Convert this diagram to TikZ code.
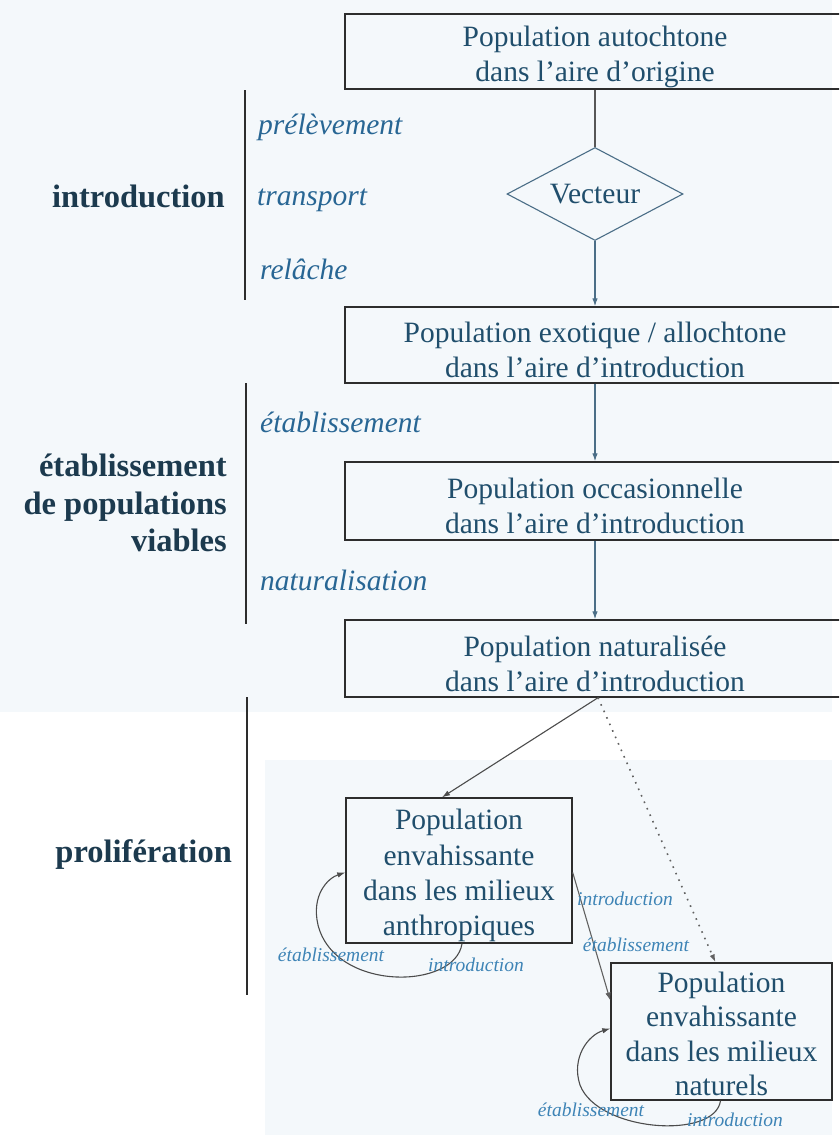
\documentclass[tikz,border=0pt]{standalone}
\usepackage{fontspec}
\setmainfont{Liberation Serif}
\usetikzlibrary{arrows.meta,shapes.geometric,calc}
\definecolor{bgtint}{RGB}{244,248,251}
\definecolor{boxtext}{RGB}{32,78,108}
\definecolor{boldlab}{RGB}{28,58,78}
\definecolor{itallab}{RGB}{40,102,148}
\definecolor{smalllab}{RGB}{62,132,182}
\definecolor{boxline}{RGB}{45,45,45}
\definecolor{arrowcol}{RGB}{75,110,135}
\newcommand\topgap{\rule{0pt}{31pt}}
\newcommand\smallgap{\rule{0pt}{25pt}}
\begin{document}
\begin{tikzpicture}[x=1pt,y=-1pt,
  popbox/.style={draw=boxline, line width=1.4pt, rectangle, inner sep=0pt,
    align=center, text=boxtext, font=\fontsize{29.5}{34.8}\selectfont},
  vecbox/.style={draw=arrowcol, line width=1.1pt, diamond, inner sep=0pt, aspect=1.9,
    minimum width=176pt, minimum height=93pt, text=boxtext,
    font=\fontsize{29.5}{34.5}\selectfont},
  boldlabel/.style={text=boldlab, font=\fontsize{32.5}{37.5}\selectfont\bfseries, inner sep=0pt},
  itlabel/.style={text=itallab, font=\fontsize{29.5}{34}\selectfont\itshape, inner sep=0pt, anchor=base west},
  smlabel/.style={text=smalllab, font=\fontsize{19.5}{22}\selectfont\itshape, inner sep=0pt},
  conn/.style={draw=arrowcol, line width=1.1pt},
  arr/.style={conn, -{Latex[length=8pt,width=5.5pt]}},
  bar/.style={draw=boxline, line width=1.7pt}
]
\useasboundingbox (0,0) rectangle (839,1135);
\clip (0,0) rectangle (839,1135);
\fill[white] (0,0) rectangle (839,1135);
\fill[bgtint] (0,0) rectangle (832,712);
\fill[bgtint] (265,760) rectangle (832,1135);

% main boxes
\node[popbox, minimum width=500pt, minimum height=75pt] (b1) at (595,51.5)
  {\topgap Population autochtone\\dans l’aire d’origine};
\node[vecbox] (vec) at (595,194) {Vecteur};
\node[popbox, minimum width=500pt, minimum height=76pt] (b2) at (595,345)
  {\topgap Population exotique / allochtone\\dans l’aire d’introduction};
\node[popbox, minimum width=500pt, minimum height=78pt] (b3) at (595,501)
  {\topgap Population occasionnelle\\dans l’aire d’introduction};
\node[popbox, minimum width=500pt, minimum height=77pt] (b4) at (595,658.5)
  {\topgap Population naturalisée\\dans l’aire d’introduction};
\node[popbox, minimum width=226pt, minimum height=145pt, font=\fontsize{29.5}{35.4}\selectfont] (b5) at (459,870.5)
  {\topgap Population\\envahissante\\dans les milieux\\anthropiques};
\node[popbox, minimum width=221pt, minimum height=137pt, font=\fontsize{29.5}{34.3}\selectfont] (b6) at (721.5,1031.5)
  {\smallgap Population\\envahissante\\dans les milieux\\naturels};

% connectors
\draw[conn, draw=boxline!80] (b1.south) -- (vec.north);
\draw[arr] (vec.south) -- (b2.north);
\draw[arr] (b2.south) -- (b3.north);
\draw[arr] (b3.south) -- (b4.north);
\coordinate (split) at ($(b4.south)+(3,0)$);
\draw[conn, draw=boxline!85, -{Latex[length=8pt,width=5.5pt]}] (split) -- ($(b5.north)+(-17,0)$);
\draw[conn, draw=boxline!75, line width=1.6pt, dash pattern=on 1.6pt off 5.5pt, -{Latex[length=8pt,width=5.5pt]}] (split) -- ($(b6.north)+(-6,0)$);
\draw[conn, draw=boxline!75, -{Latex[length=8pt,width=5.5pt]}] ($(b5.east)+(0,2)$) -- ($(b6.west)+(0,-31)$);

% self loops
\draw[conn, draw=boxline!85, -{Latex[length=8pt,width=5.5pt]}]
  ($(b5.south)+(3,0)$) .. controls (455,990) and (335,992) .. (318,925)
  .. controls (311,895) and (328,878) .. ($(b5.west)+(0,2)$);
\draw[conn, draw=boxline!85, -{Latex[length=8pt,width=5.5pt]}]
  ($(b6.south)+(-1,0)$) .. controls (715,1140) and (598,1132) .. (580,1085)
  .. controls (571,1058) and (588,1035) .. ($(b6.west)+(0,-3)$);

% small labels
\node[smlabel] (l1) at (625,899) {introduction};
\node[smlabel] (l2) at (636,945) {établissement};
\node[smlabel] (l3) at (331,955) {établissement};
\node[smlabel] (l4) at (476,965) {introduction};
\node[smlabel] (l5) at (591,1110) {établissement};
\node[smlabel] (l6) at (735,1120) {introduction};

% left side
\draw[bar] (245,90) -- (245,300);
\draw[bar] (246,383) -- (246,624);
\draw[bar] (247,697) -- (247,995);

\node[boldlabel, anchor=base east] (introd) at (225,207) {introduction};
\node[boldlabel, anchor=east, align=right] (etab) at (227,503)
  {établissement\\de populations\\viables};
\node[boldlabel, anchor=base east] (prolif) at (232,862) {prolifération};

\node[itlabel] (prel) at (258,134) {prélèvement};
\node[itlabel] (transp) at (257,205) {transport};
\node[itlabel] (relache) at (260,279) {relâche};
\node[itlabel] (etabl) at (260,432) {établissement};
\node[itlabel] (natur) at (260,590) {naturalisation};
\end{tikzpicture}
\end{document}
